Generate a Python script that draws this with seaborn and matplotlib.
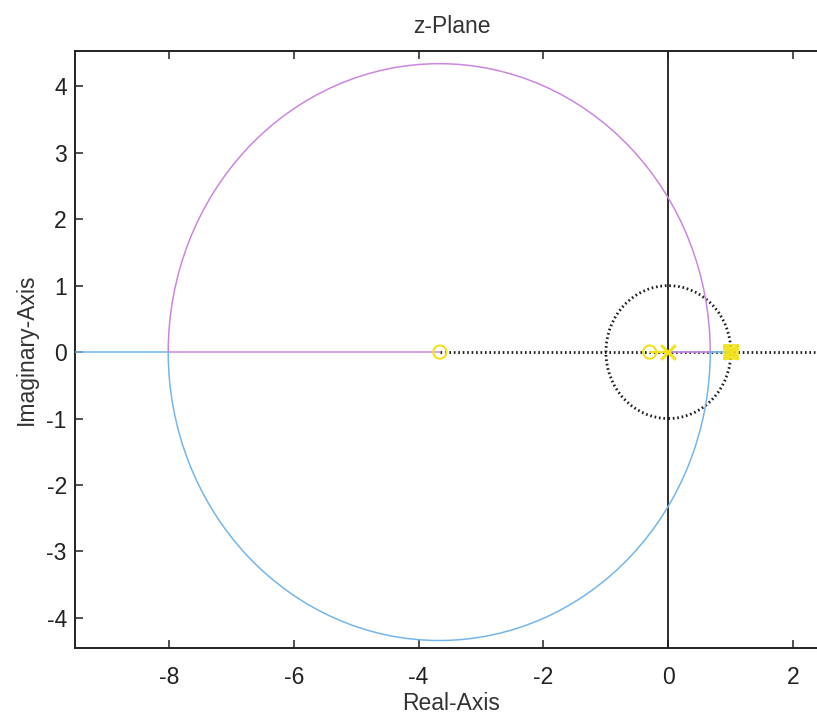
import numpy as np
import pandas as pd
import matplotlib
matplotlib.use("Agg")
import matplotlib.pyplot as plt
from matplotlib.patches import Arc, Circle
import seaborn as sns

# values
poles = [0.0, 1.0]
zeros = [-3.66, -0.3]
breakin = -8.0          # where the circle meets the real axis on the left
breakaway = 0.67        # where the circle meets the real axis on the right
circle_center = -3.67
circle_radius = 4.34
x_limits = [-9.5, 2.55]
y_limits = [-4.45, 4.53]
x_ticks = [-8, -6, -4, -2, 0, 2]
y_ticks = [-4, -3, -2, -1, 0, 1, 2, 3, 4]

MAGENTA = "#c987e0"
BLUE = "#74b6ec"
YELLOW = "#f2e21a"
BLACK = "#1e1e1e"

sns.set_style("ticks")
plt.rcParams["font.family"] = ["Liberation Sans", "DejaVu Sans"]
plt.rcParams["axes.unicode_minus"] = False

fig = plt.figure(figsize=(8.17, 7.19), dpi=100)
ax = fig.add_axes([0.092, 0.099, 0.921, 0.830])
fig.patch.set_facecolor("white")
ax.set_facecolor("white")

# reference lines: real axis (dotted), imaginary axis and unit circle
real_axis = pd.DataFrame({"x": [zeros[0], x_limits[1]], "y": [0, 0]})
sns.lineplot(data=real_axis, x="x", y="y", color=BLACK, lw=2.0,
             linestyle=(0, (0.6, 1.0)), ax=ax, zorder=2)
ax.axvline(0, color=BLACK, lw=1.3, zorder=2)
ax.add_patch(Circle((0, 0), 1.0, fill=False, color=BLACK, lw=2.0,
                    linestyle=(0, (0.6, 1.0)), zorder=2))

# branch along the negative real axis
blue_seg = pd.DataFrame({"x": [x_limits[0], breakin], "y": [0, 0]})
sns.lineplot(data=blue_seg, x="x", y="y", color=BLUE, lw=1.1, ax=ax, zorder=3)
mag_seg = pd.DataFrame({"x": [breakin, zeros[0]], "y": [0, 0]})
sns.lineplot(data=mag_seg, x="x", y="y", color=MAGENTA, lw=1.1, ax=ax, zorder=3)

# circle of the locus
ax.add_patch(Arc((circle_center, 0), 2 * circle_radius, 2 * circle_radius,
                 theta1=0, theta2=180, color=MAGENTA, lw=1.1, zorder=3))
ax.add_patch(Arc((circle_center, 0), 2 * circle_radius, 2 * circle_radius,
                 theta1=180, theta2=360, color=BLUE, lw=1.1, zorder=3))

# short pieces near the poles
mag_near = pd.DataFrame({"x": [poles[0], breakaway], "y": [0, 0]})
sns.lineplot(data=mag_near, x="x", y="y", color=MAGENTA, lw=1.3, ax=ax, zorder=4)
blue_near = pd.DataFrame({"x": [breakaway, poles[1]], "y": [0, 0]})
sns.lineplot(data=blue_near, x="x", y="y", color=BLUE, lw=1.3, ax=ax, zorder=4)
yel_near = pd.DataFrame({"x": [zeros[1], poles[0]], "y": [0, 0]})
sns.lineplot(data=yel_near, x="x", y="y", color=YELLOW, lw=1.5, ax=ax, zorder=4)

# poles and zeros
ax.scatter(zeros, [0] * len(zeros), s=90, facecolors="none",
           edgecolors=YELLOW, linewidths=1.5, zorder=5)
ax.scatter(poles, [0] * len(poles), s=110, marker="x", color=YELLOW,
           linewidths=2.2, zorder=5)
ax.scatter(poles[1:], [0], s=120, marker="s", color=YELLOW, alpha=0.85,
           linewidths=0, zorder=5)

ax.set_xlim(x_limits)
ax.set_ylim(y_limits)
ax.set_xticks(x_ticks)
ax.set_yticks(y_ticks)
ax.tick_params(direction="in", length=6, width=1.1, labelsize=16.5,
               top=True, right=True, colors="#222222")
ax.tick_params(axis="x", pad=13)
ax.tick_params(axis="y", pad=6)
for s in ax.spines.values():
    s.set_visible(True)
    s.set_color("#222222")
    s.set_linewidth(1.4)

ax.set_title("z-Plane", fontsize=16.5, pad=13, color="#333333")
ax.set_xlabel("Real-Axis", fontsize=16.5, labelpad=2, color="#333333")
ax.set_ylabel("Imaginary-Axis", fontsize=16.5, labelpad=6, color="#333333")
if ax.get_legend() is not None:
    ax.get_legend().remove()

fig.savefig("out.png", dpi=100, facecolor="white")
